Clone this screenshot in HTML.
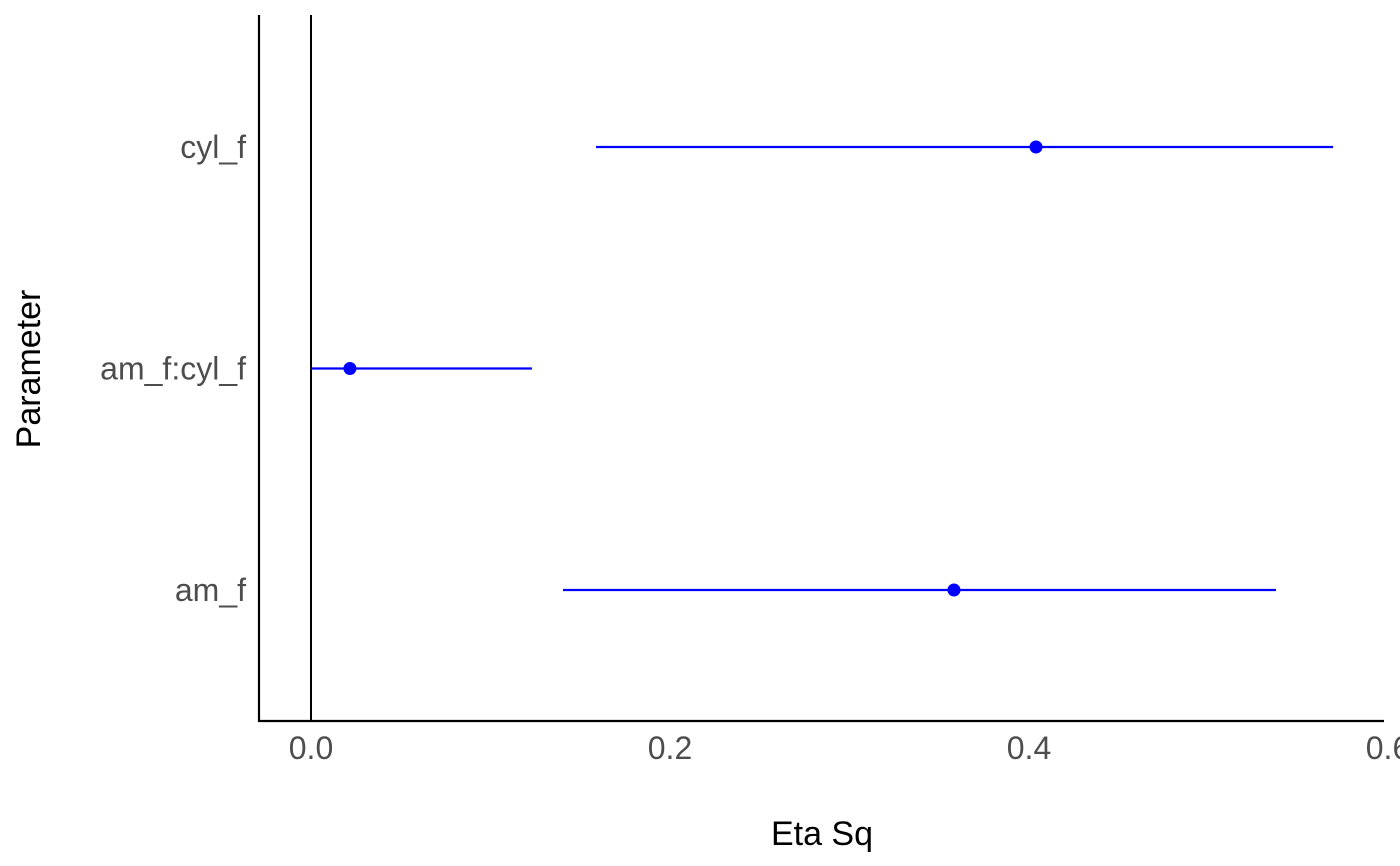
<!DOCTYPE html>
<html><head><meta charset="utf-8"><style>
html,body{margin:0;padding:0;background:#fff}
svg{display:block;font-family:"Liberation Sans",Arial,sans-serif}
</style></head><body>
<svg id="chart" width="1400" height="866">
<g id="plot"></g>
</svg>
<script>
const categories = ["am_f", "am_f:cyl_f", "cyl_f"];
const estimates = [0.3582, 0.0217, 0.4039];
const ciLow = [0.1404, 0.0, 0.1588];
const ciHigh = [0.5376, 0.1231, 0.5694];
const xTicks = [0.0, 0.2, 0.4, 0.6];
const xTickLabels = ["0.0", "0.2", "0.4", "0.6"];

const NS = "http://www.w3.org/2000/svg";
const svg = document.getElementById("plot");
const x0 = 311, pxPerUnit = 1795;
function xs(v){ return x0 + v * pxPerUnit; }
const rowTop = 147, rowStep = 221.5;
function ys(i){ return rowTop + (categories.length - 1 - i) * rowStep; }
function mk(tag, attrs){ const e = document.createElementNS(NS, tag); for (const k in attrs) e.setAttribute(k, attrs[k]); svg.appendChild(e); return e; }

let e;
e = mk("line", {x1:259, y1:15, x2:259, y2:722, stroke:"#000", "stroke-width":2.2});


e = mk("line", {x1:258, y1:721, x2:1384, y2:721, stroke:"#000", "stroke-width":2.2});


e = mk("line", {x1:xs(0), y1:15, x2:xs(0), y2:721, stroke:"#000", "stroke-width":2});



xTicks.forEach((t, i) => {
  const tx = mk("text", {x:xs(t), y:759, "text-anchor":"middle", "font-size":32, fill:"#4d4d4d"});
  tx.textContent = xTickLabels[i];
  
  
});

categories.forEach((c, i) => {
  const y = ys(i);
  const lab = mk("text", {x:246, y:y + 11, "text-anchor":"end", "font-size":32, fill:"#4d4d4d"});
  lab.textContent = c;
  
  
  const ln = mk("line", {x1:xs(ciLow[i]), y1:y, x2:xs(ciHigh[i]), y2:y, stroke:"#0000ff", "stroke-width":2.2});
  
  
  const pt = mk("circle", {cx:xs(estimates[i]), cy:y, r:6.5, fill:"#0000ff"});
  
  
});

e = mk("text", {x:822, y:845, "text-anchor":"middle", "font-size":34, fill:"#000"});
e.textContent = "Eta Sq";


e = mk("text", {x:0, y:0, "text-anchor":"middle", "font-size":34, fill:"#000", transform:"translate(40,369) rotate(-90)"});
e.textContent = "Parameter";


</script>
</body></html>
